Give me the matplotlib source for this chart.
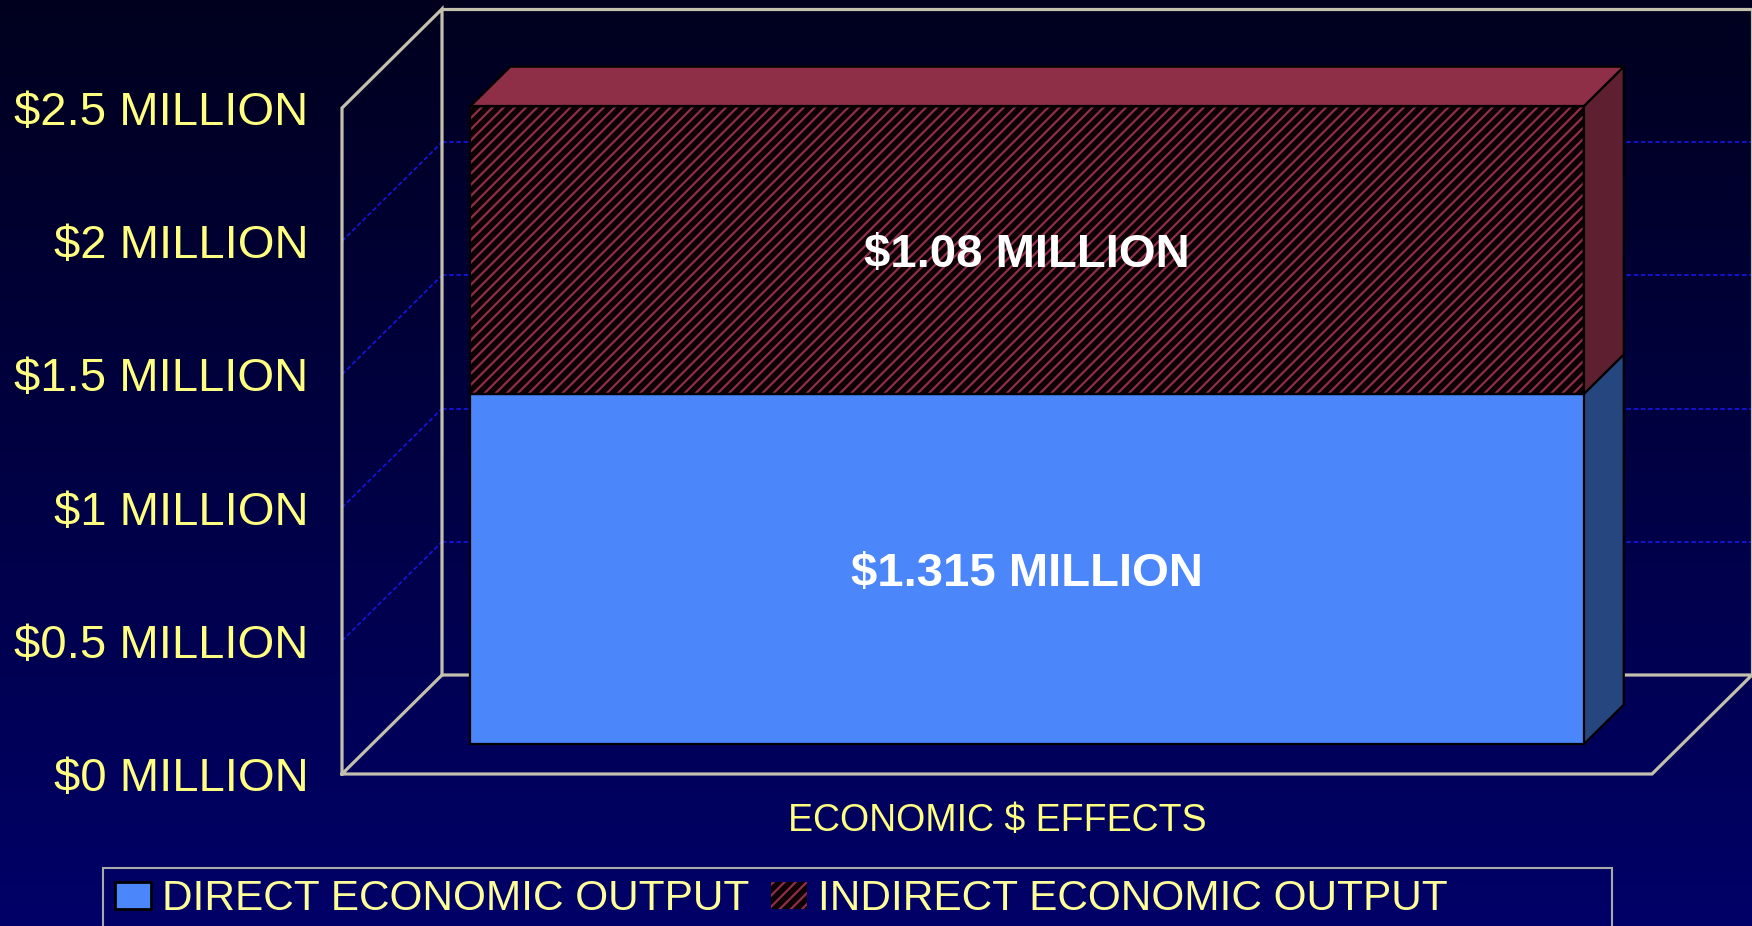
# Economic $ effects, stacked 3D-style bar

import numpy as np
import matplotlib
matplotlib.use("Agg")
import matplotlib.pyplot as plt
from matplotlib.patches import Polygon, Patch, Rectangle

plt.rcParams['font.family'] = ['Liberation Sans', 'DejaVu Sans']
plt.rcParams['hatch.linewidth'] = 1.6

category = ['ECONOMIC \\$ EFFECTS']
series_names = ['DIRECT ECONOMIC OUTPUT', 'INDIRECT ECONOMIC OUTPUT']
direct = [1.315]
indirect = [1.08]
bar_labels = ['\\$1.315 MILLION', '\\$1.08 MILLION']
yticks = [0, 0.5, 1, 1.5, 2, 2.5]
ytick_labels = ['\\$0 MILLION', '\\$0.5 MILLION', '\\$1 MILLION',
                '\\$1.5 MILLION', '\\$2 MILLION', '\\$2.5 MILLION']

yellow = '#FFFF80'
wall = '#C4C0AE'
grid_blue = '#1414D8'
front_cols = ['#4B87FA', '#0C0006']
side_cols = ['#25467E', '#5E2030']
top_col = '#8E2F47'
hatch_col = '#8E2F47'

fig = plt.figure(figsize=(17.52, 9.26), dpi=100)

# background gradient
bg = fig.add_axes([0, 0, 1, 1], zorder=-10)
grad = np.linspace(0, 1, 256).reshape(-1, 1)
top_rgb = np.array([0x00, 0x00, 0x1E]) / 255
bot_rgb = np.array([0x00, 0x00, 0x68]) / 255
img = top_rgb + grad[..., None] * (bot_rgb - top_rgb)
bg.imshow(img, aspect='auto', extent=[0, 1, 0, 1], origin='upper')
bg.axis('off')

ax = fig.add_axes([342 / 1752, 152 / 926, 1310 / 1752, 666 / 926])
ax.set_facecolor('none')
ax.set_xlim(-0.5, 0.5)
ax.set_ylim(0, 2.5)
for s in ax.spines.values():
    s.set_visible(False)

# depth of the box, in data units
DX = 100 / 1310
DY = 99 / 666 * 2.5
x0, x1 = ax.get_xlim()
ymax = ax.get_ylim()[1]

# dashed gridlines on back and left walls
for v in yticks[1:-1]:
    ax.plot([x0 + DX, x1 + DX], [v + DY, v + DY], color=grid_blue, lw=1.3,
            dashes=(2.5, 1.5), clip_on=False, zorder=1)
    ax.plot([x0, x0 + DX], [v, v + DY], color=grid_blue, lw=1.3,
            dashes=(2.5, 1.5), clip_on=False, zorder=1)

# wall edges
kw = dict(color=wall, lw=2.3, clip_on=False, zorder=2, solid_joinstyle='miter')
ax.plot([x0, x0, x0 + DX, x0 + DX], [0, ymax, ymax + DY, DY], **kw)
ax.plot([x0 + DX, x1 + DX, x1 + DX], [ymax + DY, ymax + DY, DY], **kw)
ax.plot([x0, x1, x1 + DX, x0 + DX, x0], [0, 0, DY, DY, 0], **kw)

# bar
W = 0.85
f, b = 0.3, 0.7
heights = [direct[0], indirect[0]]
bottoms = [0, direct[0]]
xc = 0
for i, (h, bot) in enumerate(zip(heights, bottoms)):
    xl, xr = xc - W / 2, xc + W / 2
    y0, y1 = bot, bot + h
    if i == 1:
        ax.bar(xc + f * DX, h, W, bottom=bot + f * DY, color=front_cols[i],
               edgecolor=hatch_col, hatch='///', lw=0, zorder=3, clip_on=False)
        ax.bar(xc + f * DX, h, W, bottom=bot + f * DY, color='none',
               edgecolor='black', lw=1.6, zorder=4, clip_on=False)
    else:
        ax.bar(xc + f * DX, h, W, bottom=bot + f * DY, color=front_cols[i],
               edgecolor='black', lw=1.6, zorder=4, clip_on=False)
    side = Polygon([(xr + f * DX, y0 + f * DY), (xr + b * DX, y0 + b * DY),
                    (xr + b * DX, y1 + b * DY), (xr + f * DX, y1 + f * DY)],
                   closed=True, facecolor=side_cols[i], edgecolor='black',
                   lw=1.6, zorder=3, clip_on=False)
    ax.add_patch(side)
    ax.text(xc + f * DX, (y0 + y1) / 2 + f * DY - 0.017, bar_labels[i], color='white',
            fontsize=34, fontweight='bold', ha='center', va='center', zorder=5)

total = sum(heights)
top = Polygon([(xc - W / 2 + f * DX, total + f * DY), (xc - W / 2 + b * DX, total + b * DY),
               (xc + W / 2 + b * DX, total + b * DY), (xc + W / 2 + f * DX, total + f * DY)],
              closed=True, facecolor=top_col, edgecolor='black', lw=1.6,
              zorder=3, clip_on=False)
ax.add_patch(top)

ax.set_yticks(yticks, ytick_labels, fontsize=34, color=yellow)
ax.set_xticks([xc], category, fontsize=27, color=yellow)
ax.tick_params(axis='y', length=0, pad=24)
ax.tick_params(axis='x', length=0, pad=21)

# legend
handles = [Patch(facecolor=front_cols[0], edgecolor='black', lw=2),
           Patch(facecolor=front_cols[1], edgecolor=hatch_col, hatch='///', lw=0)]
leg = fig.legend(handles, series_names, loc='center left',
                 bbox_to_anchor=(115 / 1752, 27 / 926), ncol=2, frameon=False,
                 fontsize=30.5, handlelength=0.86, handleheight=0.6,
                 handletextpad=0.25, columnspacing=0.5, borderpad=0,
                 borderaxespad=0)
for t in leg.get_texts():
    t.set_color('#FFFF99')
fig.patches.append(Rectangle((103 / 1752, -0.05), 1509 / 1752, (926 - 868) / 926 + 0.05,
                             transform=fig.transFigure, facecolor='none',
                             edgecolor='#A8A8A8', lw=1.5))

fig.savefig('out.png', dpi=100)
